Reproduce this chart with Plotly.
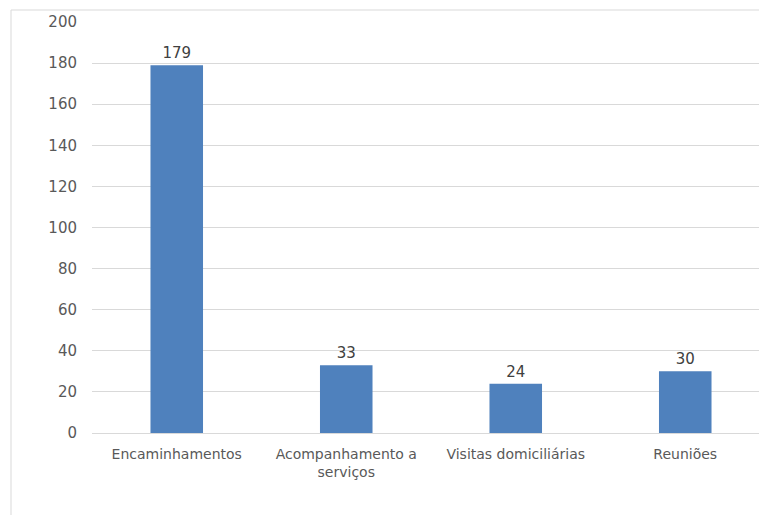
import plotly.graph_objects as go

categories = ["Encaminhamentos", "Acompanhamento a<br>serviços", "Visitas domiciliárias", "Reuniões"]
values = [179, 33, 24, 30]
y_ticks = [0, 20, 40, 60, 80, 100, 120, 140, 160, 180, 200]

W, H = 759, 515
L, R, T, B = 92, 0, 22, 82
pw = W - L - R
ph = H - T - B

fig = go.Figure(go.Bar(
    x=list(range(len(categories))), y=values,
    width=0.31,
    marker=dict(color="#4f81bd", line=dict(width=0)),
    text=[str(v) for v in values], textposition="outside",
    textfont=dict(size=15, color="#404040", family="DejaVu Sans"),
    cliponaxis=False,
))

fig.update_layout(
    width=W, height=H,
    margin=dict(l=L, r=R, t=T, b=B),
    paper_bgcolor="white", plot_bgcolor="white",
    showlegend=False,
    font=dict(family="DejaVu Sans", color="#595959", size=14),
    xaxis=dict(
        tickmode="array", tickvals=list(range(len(categories))), ticktext=categories,
        range=[-0.5, 3.5 - 11 / 169.5],
        showgrid=False, zeroline=False, showline=False,
        tickfont=dict(size=14, color="#595959"),
        ticks="outside", ticklen=8, tickcolor="rgba(0,0,0,0)",
    ),
    yaxis=dict(
        range=[0, 200], tickvals=y_ticks,
        showgrid=True, gridcolor="#d9d9d9", gridwidth=1,
        zeroline=True, zerolinecolor="#d9d9d9", zerolinewidth=1,
        showline=False,
        tickfont=dict(size=15, color="#595959"),
        ticklabelstandoff=14,
    ),
    shapes=[dict(
        type="rect", xref="paper", yref="paper",
        x0=(11 - L) / pw, x1=(W + 5 - L) / pw,
        y0=(T + ph - 520) / ph, y1=(T + ph - 10) / ph,
        line=dict(color="#d9d9d9", width=1), fillcolor="rgba(0,0,0,0)", layer="below",
    )],
)

fig.write_html("out.html")
